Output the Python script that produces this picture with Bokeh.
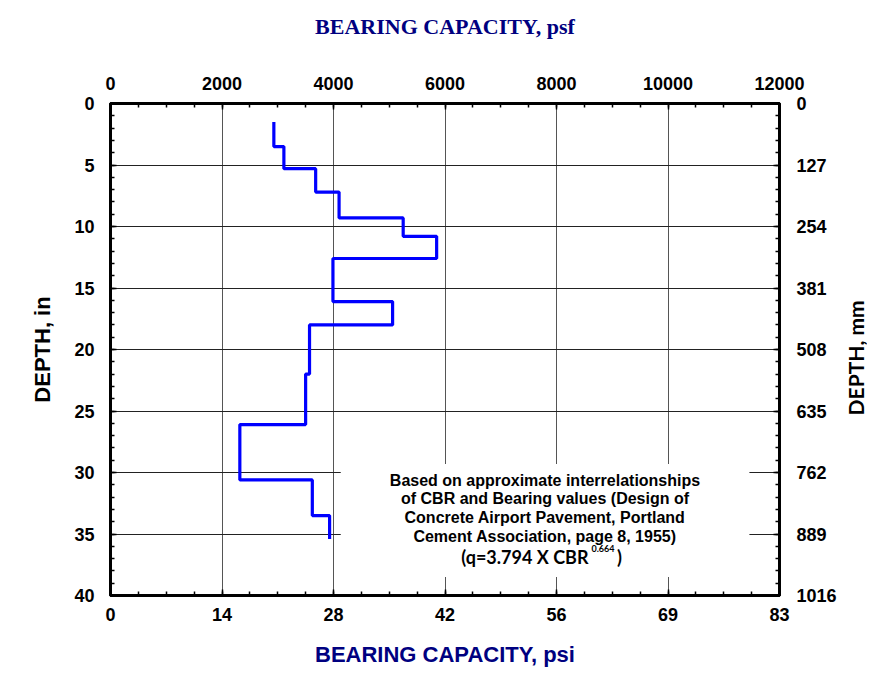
import math
from bokeh.plotting import figure
from bokeh.layouts import row
from bokeh.models import (Range1d, LinearAxis, SingleIntervalTicker, FixedTicker,
                          Label, BoxAnnotation)
from bokeh.embed import file_html
from bokeh.resources import INLINE

# ---------------- data ----------------
depth_bounds_in = [1.5, 3.5, 5.3, 7.2, 9.3, 10.8, 12.6, 16.1, 18.0, 22.0, 26.1, 30.6, 33.5, 35.4]
bearing_psf = [2930, 3110, 3680, 4100, 5250, 5850, 3990, 5060, 3570, 3500, 2320, 3620, 3930]

psf_ticks = [0, 2000, 4000, 6000, 8000, 10000, 12000]
psi_labels = ["0", "14", "28", "42", "56", "69", "83"]
depth_ticks_in = [0, 5, 10, 15, 20, 25, 30, 35, 40]
depth_ticks_mm = [0, 127, 254, 381, 508, 635, 762, 889, 1016]

note_lines = [
    "Based on approximate interrelationships",
    "of CBR and Bearing values (Design of",
    "Concrete Airport Pavement, Portland",
    "Cement Association, page 8, 1955)",
]
formula_main = "(q=3.794 X CBR"
formula_exp = "0.664"
formula_end = ")"

# build the stepped profile (vertical segments per layer)
xs, ys = [], []
for i, v in enumerate(bearing_psf):
    xs += [v, v]
    ys += [depth_bounds_in[i], depth_bounds_in[i + 1]]

NAVY = "#000080"
SANS = "Liberation Sans"

H = 675
B_TOP, B_BOTTOM = 103, 80

p = figure(width=843, height=H,
           x_range=Range1d(0, 12000), y_range=Range1d(40, 0),
           x_axis_location="above", y_axis_location="left",
           output_backend="svg", toolbar_location=None,
           min_border_left=110, min_border_right=64,
           min_border_top=B_TOP, min_border_bottom=B_BOTTOM)
p.extra_y_ranges = {"mm": Range1d(1016, 0)}

p.outline_line_color = "black"
p.outline_line_width = 3
p.background_fill_color = "white"
p.border_fill_color = "white"

p.xgrid.grid_line_color = "#555555"
p.xgrid.grid_line_width = 1
p.ygrid.grid_line_color = "#222222"
p.ygrid.grid_line_width = 1


def style_axis(ax):
    ax.axis_line_color = "black"
    ax.axis_line_width = 3
    ax.major_tick_in = 6
    ax.major_tick_out = 0
    ax.minor_tick_in = 4
    ax.minor_tick_out = 0
    ax.major_tick_line_width = 1.5
    ax.minor_tick_line_width = 1.5
    ax.major_tick_line_color = "black"
    ax.minor_tick_line_color = "black"
    ax.major_label_text_font = SANS
    ax.major_label_text_font_style = "bold"
    ax.major_label_text_font_size = "18px"
    ax.major_label_text_color = "black"


# top axis (psf)
top = p.xaxis[0]
top.ticker = SingleIntervalTicker(interval=2000, num_minor_ticks=4)
style_axis(top)
top.major_label_standoff = 14
top.axis_label = "BEARING CAPACITY, psf"
top.axis_label_text_font = "Liberation Serif"
top.axis_label_text_font_style = "bold"
top.axis_label_text_font_size = "22px"
top.axis_label_text_color = NAVY
top.axis_label_standoff = 35

# left axis (in)
left = p.yaxis[0]
left.ticker = SingleIntervalTicker(interval=5, num_minor_ticks=5)
style_axis(left)
left.major_label_standoff = 16
left.axis_label = "DEPTH, in"
left.axis_label_text_font = SANS
left.axis_label_text_font_style = "bold"
left.axis_label_text_font_size = "22px"
left.axis_label_text_color = "black"
left.axis_label_standoff = 16

# bottom axis (psi)
bottom = LinearAxis(ticker=FixedTicker(ticks=psf_ticks, minor_ticks=list(range(0, 12001, 500))),
                    major_label_overrides={t: s for t, s in zip(psf_ticks, psi_labels)})
style_axis(bottom)
bottom.major_label_standoff = 12
bottom.axis_label = "BEARING CAPACITY, psi"
bottom.axis_label_text_font = SANS
bottom.axis_label_text_font_style = "bold"
bottom.axis_label_text_font_size = "22px"
bottom.axis_label_text_color = NAVY
bottom.axis_label_standoff = 18
p.add_layout(bottom, "below")

# right axis (mm) - title drawn in the narrow strip figure beside it
right = LinearAxis(y_range_name="mm",
                   ticker=FixedTicker(ticks=depth_ticks_mm,
                                      minor_ticks=[25.4 * k for k in range(41)]))
style_axis(right)
right.major_label_standoff = 17
p.add_layout(right, "right")

# profile line
p.line(xs, ys, line_color="#0000FF", line_width=3.2)

# note box (white background hiding grid)
p.add_layout(BoxAnnotation(left=4130, right=11460, top=29.3, bottom=38.5,
                           fill_color="white", fill_alpha=1.0, line_alpha=0))

note_x = 7794
note_y = [30.65, 32.1, 33.66, 35.2]
for txt, yy in zip(note_lines, note_y):
    p.add_layout(Label(x=note_x, y=yy, text=txt, text_align="center",
                       text_baseline="middle", text_font=SANS,
                       text_font_style="bold", text_font_size="16px",
                       text_color="black"))
fy = 36.9
p.add_layout(Label(x=note_x, y=fy, text=formula_main, text_align="right",
                   text_baseline="middle", x_offset=43.5, text_font="Lato",
                   text_font_style="bold", text_font_size="18px", text_color="black"))
p.add_layout(Label(x=note_x, y=fy, text=formula_exp, text_align="left",
                   text_baseline="middle", x_offset=46.5, y_offset=9, text_font="Lato",
                   text_font_style="bold", text_font_size="9px", text_color="black"))
p.add_layout(Label(x=note_x, y=fy, text=formula_end, text_align="left",
                   text_baseline="middle", x_offset=72, text_font="Lato",
                   text_font_style="bold", text_font_size="18px", text_color="black"))

# narrow strip carrying the right-hand axis title (reads bottom-to-top)
strip = figure(width=24, height=H, title=None,
               x_range=Range1d(0, 1), y_range=Range1d(0, 1),
               x_axis_location=None, y_axis_location=None,
               output_backend="svg", toolbar_location=None, min_border=0)
strip.outline_line_color = None
strip.grid.visible = False
strip.background_fill_color = "white"
strip.border_fill_color = "white"
frame_mid = 1 - (B_TOP + (H - B_TOP - B_BOTTOM) / 2) / H
strip.add_layout(Label(x=0.5, y=frame_mid, text="DEPTH, mm", angle=math.pi / 2,
                       text_align="center", text_baseline="middle", text_font="Lato",
                       text_font_style="bold", text_font_size="21px", text_color="black"))

layout = row(p, strip)
open("out.html", "w").write(file_html(layout, INLINE))
